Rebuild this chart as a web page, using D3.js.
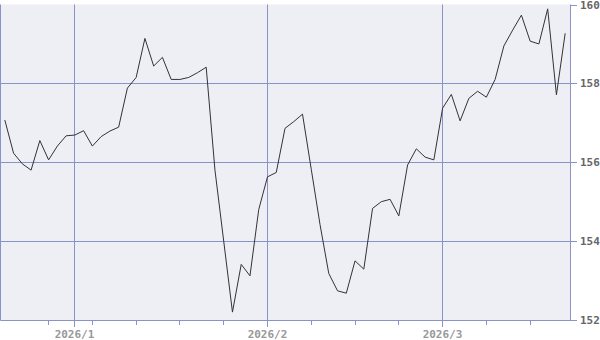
<!DOCTYPE html>
<html>
<head>
<meta charset="utf-8">
<script src="https://cdn.jsdelivr.net/npm/d3@7"></script>
<style>
    html, body { margin: 0; padding: 0; background: #ffffff; }
    svg { display: block; }
    .mono { font-family: 'DejaVu Sans Mono', monospace; font-weight: bold; font-size: 11px; }
</style>
</head>
<body>
<div id="chart"></div>
<script>
// trading days, one per weekday
const dates = [
    '2025-12-22', '2025-12-23', '2025-12-24', '2025-12-25', '2025-12-26', '2025-12-29', '2025-12-30', '2025-12-31',
    '2026-01-01', '2026-01-02', '2026-01-05', '2026-01-06', '2026-01-07', '2026-01-08', '2026-01-09',
    '2026-01-12', '2026-01-13', '2026-01-14', '2026-01-15', '2026-01-16', '2026-01-19', '2026-01-20',
    '2026-01-21', '2026-01-22', '2026-01-23', '2026-01-26', '2026-01-27', '2026-01-28', '2026-01-29', '2026-01-30',
    '2026-02-02', '2026-02-03', '2026-02-04', '2026-02-05', '2026-02-06', '2026-02-09', '2026-02-10',
    '2026-02-11', '2026-02-12', '2026-02-13', '2026-02-16', '2026-02-17', '2026-02-18', '2026-02-19',
    '2026-02-20', '2026-02-23', '2026-02-24', '2026-02-25', '2026-02-26', '2026-02-27',
    '2026-03-02', '2026-03-03', '2026-03-04', '2026-03-05', '2026-03-06', '2026-03-09', '2026-03-10',
    '2026-03-11', '2026-03-12', '2026-03-13', '2026-03-16', '2026-03-17', '2026-03-18', '2026-03-19', '2026-03-20',
];

const closes = [
    157.07, 156.23, 155.96, 155.80, 156.55, 156.06, 156.41, 156.67,
    156.69, 156.80, 156.41, 156.65, 156.79, 156.89, 157.88,
    158.15, 159.14, 158.44, 158.66, 158.10, 158.10, 158.15,
    158.27, 158.41, 155.80, 154.00, 152.20, 153.41, 153.12, 154.80,
    155.63, 155.74, 156.86, 157.03, 157.22, 155.82, 154.42,
    153.18, 152.74, 152.68, 153.50, 153.29, 154.83, 155.00,
    155.06, 154.64, 155.93, 156.34, 156.13, 156.06,
    157.37, 157.72, 157.05, 157.62, 157.80, 157.65, 158.10,
    158.95, 159.35, 159.73, 159.07, 159.00, 159.89, 157.71, 159.27,
];

const yTicks = [152, 154, 156, 158, 160];
const monthStarts = ['2026-01-01', '2026-02-02', '2026-03-02'];
const monthLabels = ['2026/1', '2026/2', '2026/3'];
const weekStarts = [
    '2025-12-29', '2026-01-05', '2026-01-12', '2026-01-19', '2026-01-26',
    '2026-02-02', '2026-02-09', '2026-02-16', '2026-02-23', '2026-03-02', '2026-03-09', '2026-03-16',
];

const width = 600;
const height = 340;
const plot = { left: 0, top: 4.5, right: 570, bottom: 320 };
const gridColor = '#8a93c9';

const svg = d3.select('#chart')
    .append('svg')
    .attr('width', width)
    .attr('height', height);

const x = d3.scalePoint()
    .domain(dates)
    .range([plot.left, plot.right])
    .padding(0.55);

const y = d3.scaleLinear()
    .domain([152, 160])
    .range([plot.bottom, plot.top]);

// plot background
svg.append('rect')
    .attr('x', plot.left)
    .attr('y', plot.top)
    .attr('width', plot.right - plot.left)
    .attr('height', plot.bottom - plot.top)
    .style('fill', '#eeeef5');

// horizontal grid
svg.append('g')
    .selectAll('line')
    .data(yTicks.filter((d) => d > 152 && d < 160))
    .enter()
    .append('line')
    .attr('x1', plot.left)
    .attr('x2', plot.right)
    .attr('y1', (d) => Math.round(y(d)) + 0.5)
    .attr('y2', (d) => Math.round(y(d)) + 0.5)
    .style('stroke', gridColor);

// vertical grid at month starts
svg.append('g')
    .selectAll('line')
    .data(monthStarts)
    .enter()
    .append('line')
    .attr('x1', (d) => Math.floor(x(d)) + 0.5)
    .attr('x2', (d) => Math.floor(x(d)) + 0.5)
    .attr('y1', plot.top)
    .attr('y2', plot.bottom)
    .style('stroke', gridColor);

// frame: left, right, bottom
svg.append('path')
    .attr('d', `M0.5,${ plot.top }V${ plot.bottom + 0.5 }H${ plot.right + 0.5 }V${ plot.top }`)
    .style('fill', 'none')
    .style('stroke', gridColor);

// weekly minor ticks
svg.append('g')
    .selectAll('line')
    .data(weekStarts)
    .enter()
    .append('line')
    .attr('x1', (d) => Math.floor(x(d)) + 0.5)
    .attr('x2', (d) => Math.floor(x(d)) + 0.5)
    .attr('y1', plot.bottom)
    .attr('y2', plot.bottom + 5)
    .style('stroke', gridColor);

// month ticks and labels
const months = svg.append('g')
    .selectAll('g')
    .data(monthStarts.map((d, i) => ({ date: d, label: monthLabels[i] })))
    .enter()
    .append('g')
    .attr('transform', (d) => `translate(${ Math.floor(x(d.date)) + 0.5 }, ${ plot.bottom })`);

months.append('line')
    .attr('y1', 0)
    .attr('y2', 7)
    .style('stroke', gridColor);

months.append('text')
    .attr('class', 'mono')
    .text((d) => d.label)
    .attr('y', 14)
    .attr('dy', '0.35em')
    .style('text-anchor', 'middle')
    .style('fill', '#999999');

// right y axis
const yAxis = svg.append('g')
    .selectAll('g')
    .data(yTicks)
    .enter()
    .append('g')
    .attr('transform', (d) => `translate(${ plot.right }, ${ Math.round(y(d)) + 0.5 })`);

yAxis.append('line')
    .attr('x1', 0)
    .attr('x2', 7)
    .style('stroke', gridColor);

yAxis.append('text')
    .attr('class', 'mono')
    .text((d) => d)
    .attr('x', 10)
    .attr('dy', '0.35em')
    .style('fill', '#666666');

// price line
const line = d3.line()
    .x((d, i) => x(dates[i]))
    .y((d) => y(d));

svg.append('path')
    .datum(closes)
    .attr('d', line)
    .style('fill', 'none')
    .style('stroke', '#333333')
    .style('stroke-width', 1);
</script>
</body>
</html>
